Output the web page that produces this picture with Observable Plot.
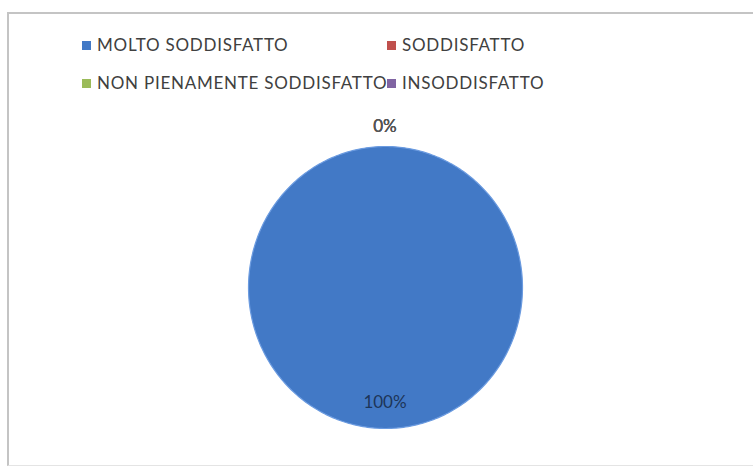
<!DOCTYPE html>
<html><head><meta charset="utf-8">
<script src="https://cdn.jsdelivr.net/npm/d3@7"></script>
<script src="https://cdn.jsdelivr.net/npm/@observablehq/plot@0.6"></script>
<style>
body{margin:0;background:#fff;}
#wrap{position:relative;width:753px;height:468px;overflow:hidden;font-family:Lato,"Liberation Sans",sans-serif;}
#frame{position:absolute;left:7px;top:12px;width:800px;height:451px;border-top:2px solid #c4c4c4;border-left:2px solid #c4c4c4;border-bottom:1px solid #e4e4e4;}
#chart{position:absolute;left:0;top:0;}
.leg{position:absolute;font-size:17px;letter-spacing:0.75px;color:#404040;white-space:nowrap;line-height:20px;}
.leg i{display:inline-block;width:9px;height:9px;margin-right:6px;vertical-align:1px;}
</style></head>
<body>
<div id="wrap"><div id="frame"></div><div id="chart"></div></div>
<script>
const categories = ["MOLTO SODDISFATTO", "SODDISFATTO", "NON PIENAMENTE SODDISFATTO", "INSODDISFATTO"];
const values = [100, 0, 0, 0];
const labels = ["100%", "0%", "0%", "0%"];
const colors = ["#4279c6", "#c0504d", "#9bbb59", "#8064a2"];

const W = 753, H = 468, cx = 385, cy = 287, Rx = 137, Ry = 141;

const arcs = d3.pie().sort(null).value(d => d.value)(categories.map((name, i) => ({name, value: values[i], i})));

// polygon points per slice, in unit coordinates (angle 0 at top, clockwise)
const pts = [];
const rim = [];
arcs.forEach(a => {
  const n = Math.max(2, Math.ceil((a.endAngle - a.startAngle) / (Math.PI / 180)));
  pts.push({name: a.data.name, x: 0, y: 0});
  for (let k = 0; k <= n; k++) {
    const t = a.startAngle + (a.endAngle - a.startAngle) * k / n;
    const p = {name: a.data.name, x: Math.sin(t), y: Math.cos(t)};
    pts.push(p);
    if (a.data.value > 0) rim.push(p);
  }
});

const labs = arcs.map((a, j) => {
  const m = (a.startAngle + a.endAngle) / 2;
  const r = a.data.value > 0 ? 0.82 : 1.14;
  return {name: a.data.name, text: labels[a.data.i], x: Math.sin(m) * r, y: Math.cos(m) * r, dx: a.data.value > 0 ? 0 : (j - 2) * 3};
});

const plot = Plot.plot({
  width: W, height: H,
  margin: 0,
  x: {domain: [-cx / Rx, (W - cx) / Rx], axis: null},
  y: {domain: [(cy - H) / Ry, cy / Ry], axis: null},
  color: {domain: categories, range: colors},
  marks: [
    Plot.line(pts, {x: "x", y: "y", z: "name", fill: "name", stroke: null, curve: "linear"}),
    Plot.line(rim, {x: "x", y: "y", stroke: "#6b9be0", strokeWidth: 1.2}),
    Plot.text(labs, {x: "x", y: "y", text: "text", dx: "dx", fill: d => d.name === categories[0] ? "#1d3558" : "#555", fontSize: 17, fontFamily: "Lato, 'Liberation Sans', sans-serif"})
  ]
});
document.getElementById("chart").appendChild(plot);

// legend
const legPos = [[82, 35], [387, 35], [82, 73], [387, 73]];
categories.forEach((c, i) => {
  const d = document.createElement("div");
  d.className = "leg";
  d.style.left = legPos[i][0] + "px";
  d.style.top = legPos[i][1] + "px";
  d.innerHTML = `<i style="background:${colors[i]}"></i>${c}`;
  document.getElementById("wrap").appendChild(d);
});
</script>
</body></html>
